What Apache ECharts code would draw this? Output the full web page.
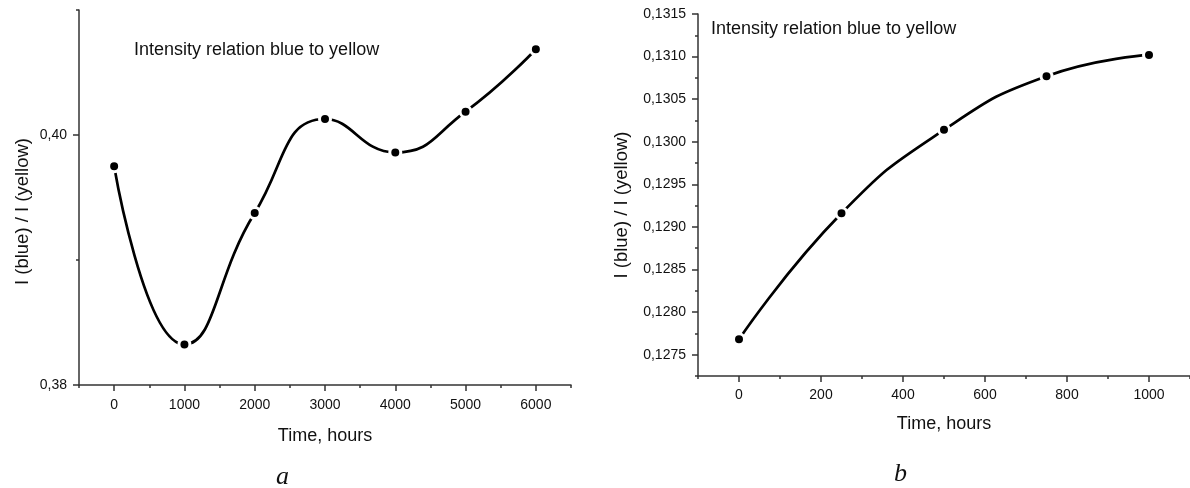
<!DOCTYPE html>
<html>
<head>
<meta charset="utf-8">
<script src="https://cdn.jsdelivr.net/npm/echarts@6/dist/echarts.min.js"></script>
<style>
html,body{margin:0;padding:0;background:#fff;}
#chart{width:1190px;height:488px;}
</style>
</head>
<body>
<div id="chart"></div>
<script>
// ---- data (panel a) ----
const leftHours = [0, 1000, 2000, 3000, 4000, 5000, 6000];
const leftRatio = [0.3975, 0.38325, 0.39376, 0.40128, 0.39861, 0.40187, 0.40686];
const leftXTicks = [0, 1000, 2000, 3000, 4000, 5000, 6000];
const leftYTicks = [0.38, 0.40];
// ---- data (panel b) ----
const rightHours = [0, 250, 500, 750, 1000];
const rightRatio = [0.12768, 0.12916, 0.13014, 0.13077, 0.13102];
const rightXTicks = [0, 200, 400, 600, 800, 1000];
const rightYTicks = [0.1275, 0.1280, 0.1285, 0.1290, 0.1295, 0.1300, 0.1305, 0.1310, 0.1315];

const titleText = 'Intensity relation blue to yellow';
const xName = 'Time, hours';
const yName = 'I (blue) / I (yellow)';

const FONT = 'Liberation Sans, Arial, sans-serif';
const AX = '#333';
const TXT = '#111';

function comma(d) { return v => Number(v).toFixed(d).replace('.', ','); }

function mainX(grid, min, max, ticks, gap, margin) {
  return {
    type: 'value', gridIndex: grid, position: 'bottom', min: min, max: max,
    name: xName, nameLocation: 'middle', nameGap: gap,
    nameTextStyle: { fontFamily: FONT, fontSize: 18, color: TXT },
    axisLine: { show: true, onZero: false, lineStyle: { color: AX, width: 1.5 } },
    axisTick: { show: true, inside: false, length: 6, customValues: ticks, lineStyle: { color: AX, width: 1.5 } },
    axisLabel: { show: true, customValues: ticks, margin: margin, fontFamily: FONT, fontSize: 14, color: TXT, formatter: v => String(v) },
    splitLine: { show: false }
  };
}
function minorX(grid, min, max, step) {
  return {
    type: 'value', gridIndex: grid, position: 'bottom', min: min, max: max, interval: step,
    axisLine: { show: false, onZero: false },
    axisTick: { show: true, inside: false, length: 3, lineStyle: { color: AX, width: 1.5 } },
    axisLabel: { show: false }, splitLine: { show: false }
  };
}
function mainY(grid, min, max, ticks, dec, gap, pad) {
  return {
    type: 'value', gridIndex: grid, position: 'left', min: min, max: max,
    name: yName, nameLocation: 'middle', nameGap: gap,
    nameTextStyle: { fontFamily: FONT, fontSize: 18.5, color: TXT, padding: [0, pad, 0, 0] },
    axisLine: { show: true, onZero: false, lineStyle: { color: AX, width: 1.5 } },
    axisTick: { show: true, inside: false, length: 6, customValues: ticks, lineStyle: { color: AX, width: 1.5 } },
    axisLabel: { show: true, customValues: ticks, margin: 12, fontFamily: FONT, fontSize: 14, color: TXT, formatter: comma(dec) },
    splitLine: { show: false }
  };
}
function minorY(grid, min, max, step) {
  return {
    type: 'value', gridIndex: grid, position: 'left', min: min, max: max, interval: step,
    axisLine: { show: false, onZero: false },
    axisTick: { show: true, inside: false, length: 3, lineStyle: { color: AX, width: 1.5 } },
    axisLabel: { show: false }, splitLine: { show: false }
  };
}
function lineSeries(xi, yi, xs, ys) {
  return {
    type: 'line', xAxisIndex: xi, yAxisIndex: yi,
    data: xs.map((x, i) => [x, ys[i]]),
    smooth: true,
    symbol: 'circle', symbolSize: 11,
    lineStyle: { color: '#000', width: 2.7 },
    itemStyle: { color: '#000', borderColor: '#fff', borderWidth: 3 },
    z: 5, animation: false
  };
}

const chart = echarts.init(document.getElementById('chart'), null, { renderer: 'canvas' });
chart.setOption({
  backgroundColor: '#fff',
  animation: false,
  title: [
    { text: titleText, left: 129, top: 36, textStyle: { fontFamily: FONT, fontSize: 18, fontWeight: 'normal', color: TXT } },
    { text: titleText, left: 706, top: 15, textStyle: { fontFamily: FONT, fontSize: 18, fontWeight: 'normal', color: TXT } },
    { text: 'a', left: 271, top: 459, textStyle: { fontFamily: 'Liberation Serif, Times New Roman, serif', fontStyle: 'italic', fontSize: 26, fontWeight: 'normal', color: TXT } },
    { text: 'b', left: 889, top: 456, textStyle: { fontFamily: 'Liberation Serif, Times New Roman, serif', fontStyle: 'italic', fontSize: 26, fontWeight: 'normal', color: TXT } }
  ],
  grid: [
    { left: 79, top: 10, width: 492, height: 375, containLabel: false },
    { left: 698, top: 14, width: 495, height: 362, containLabel: false }
  ],
  xAxis: [
    mainX(0, -500, 6500, leftXTicks, 42, 13),
    minorX(0, -500, 6500, 500),
    mainX(1, -100, 1100, rightXTicks, 39, 12),
    minorX(1, -100, 1100, 100)
  ],
  yAxis: [
    mainY(0, 0.38, 0.41, leftYTicks, 2, 47, 28),
    minorY(0, 0.38, 0.41, 0.01),
    mainY(1, 0.12725, 0.1315, rightYTicks, 4, 67, 20),
    minorY(1, 0.12725, 0.1315, 0.00025)
  ],
  series: [
    lineSeries(0, 0, leftHours, leftRatio),
    lineSeries(2, 2, rightHours, rightRatio)
  ]
});
</script>
</body>
</html>
